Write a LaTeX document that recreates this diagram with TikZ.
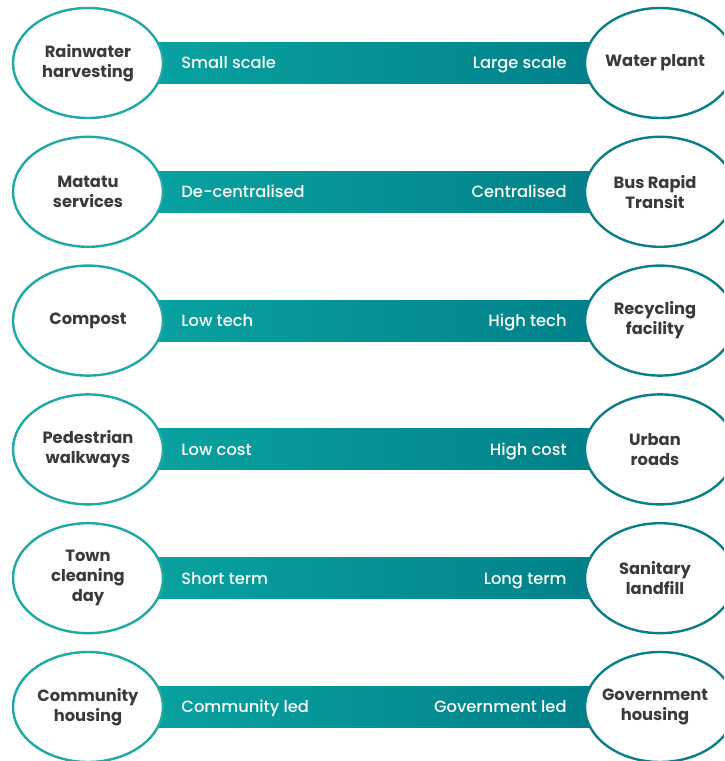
\documentclass[tikz,border=0pt]{standalone}
\usepackage{fontspec}
\setmainfont{Poppins}
\newfontfamily\medfont{Poppins}[UprightFont=* Medium]
\usetikzlibrary{shapes.geometric,backgrounds}
\definecolor{barL}{HTML}{0AA7A4}
\definecolor{barR}{HTML}{007C86}
\definecolor{ringL}{HTML}{1EA9A4}
\definecolor{ringR}{HTML}{0A7F87}
\definecolor{txt}{HTML}{3A3A3A}
\tikzset{
  oval/.style={ellipse, draw, fill=white, line width=2.4pt, minimum width=150pt, minimum height=110pt, inner sep=0pt, align=center, font=\fontsize{16.3}{20}\selectfont\bfseries, text=txt},
  ovalL/.style={oval, draw=ringL},
  ovalR/.style={oval, draw=ringR},
  barlabel/.style={font=\medfont\fontsize{16.3}{19}\selectfont, text=white, inner sep=0pt},
  bar/.style={left color=barL, right color=barR}
}
\begin{document}
\begin{tikzpicture}[x=1pt,y=1pt]
\useasboundingbox (0,0) rectangle (724,761);
\clip (0,0) rectangle (724,761);
\foreach \i/\lt/\rt/\la/\ra in {
  0/{Rainwater\\harvesting}/{Water plant}/{Small scale}/{Large scale},
  1/{Matatu\\services}/{Bus Rapid\\Transit}/{De-centralised}/{Centralised},
  2/{Compost}/{Recycling\\facility}/{Low tech}/{High tech},
  3/{Pedestrian\\walkways}/{Urban\\roads}/{Low cost}/{High cost},
  4/{Town\\cleaning\\day}/{Sanitary\\landfill}/{Short term}/{Long term},
  5/{Community\\housing}/{Government\\housing}/{Community led}/{Government led}}{
  \pgfmathsetmacro{\yy}{761-63-128.8*\i}
  \node[ovalL] (L\i) at (88,\yy) {\lt};
  \node[ovalR] (R\i) at (660,\yy) {};
  \node[text=txt, align=center, font=\fontsize{16.3}{20}\selectfont\bfseries] (RT\i) at (655,\yy) {\rt};
  \begin{scope}[on background layer]
    \shade[bar] ([yshift=-20.5pt]L\i.center) rectangle ([yshift=20.5pt]R\i.center);
  \end{scope}
  \node[barlabel, anchor=base west] (A\i) at ([xshift=17pt,yshift=-6pt]L\i.east) {\la};
  \node[barlabel, anchor=base east] (B\i) at ([xshift=-17pt,yshift=-6pt]R\i.west) {\ra};
}
\end{tikzpicture}
\end{document}
